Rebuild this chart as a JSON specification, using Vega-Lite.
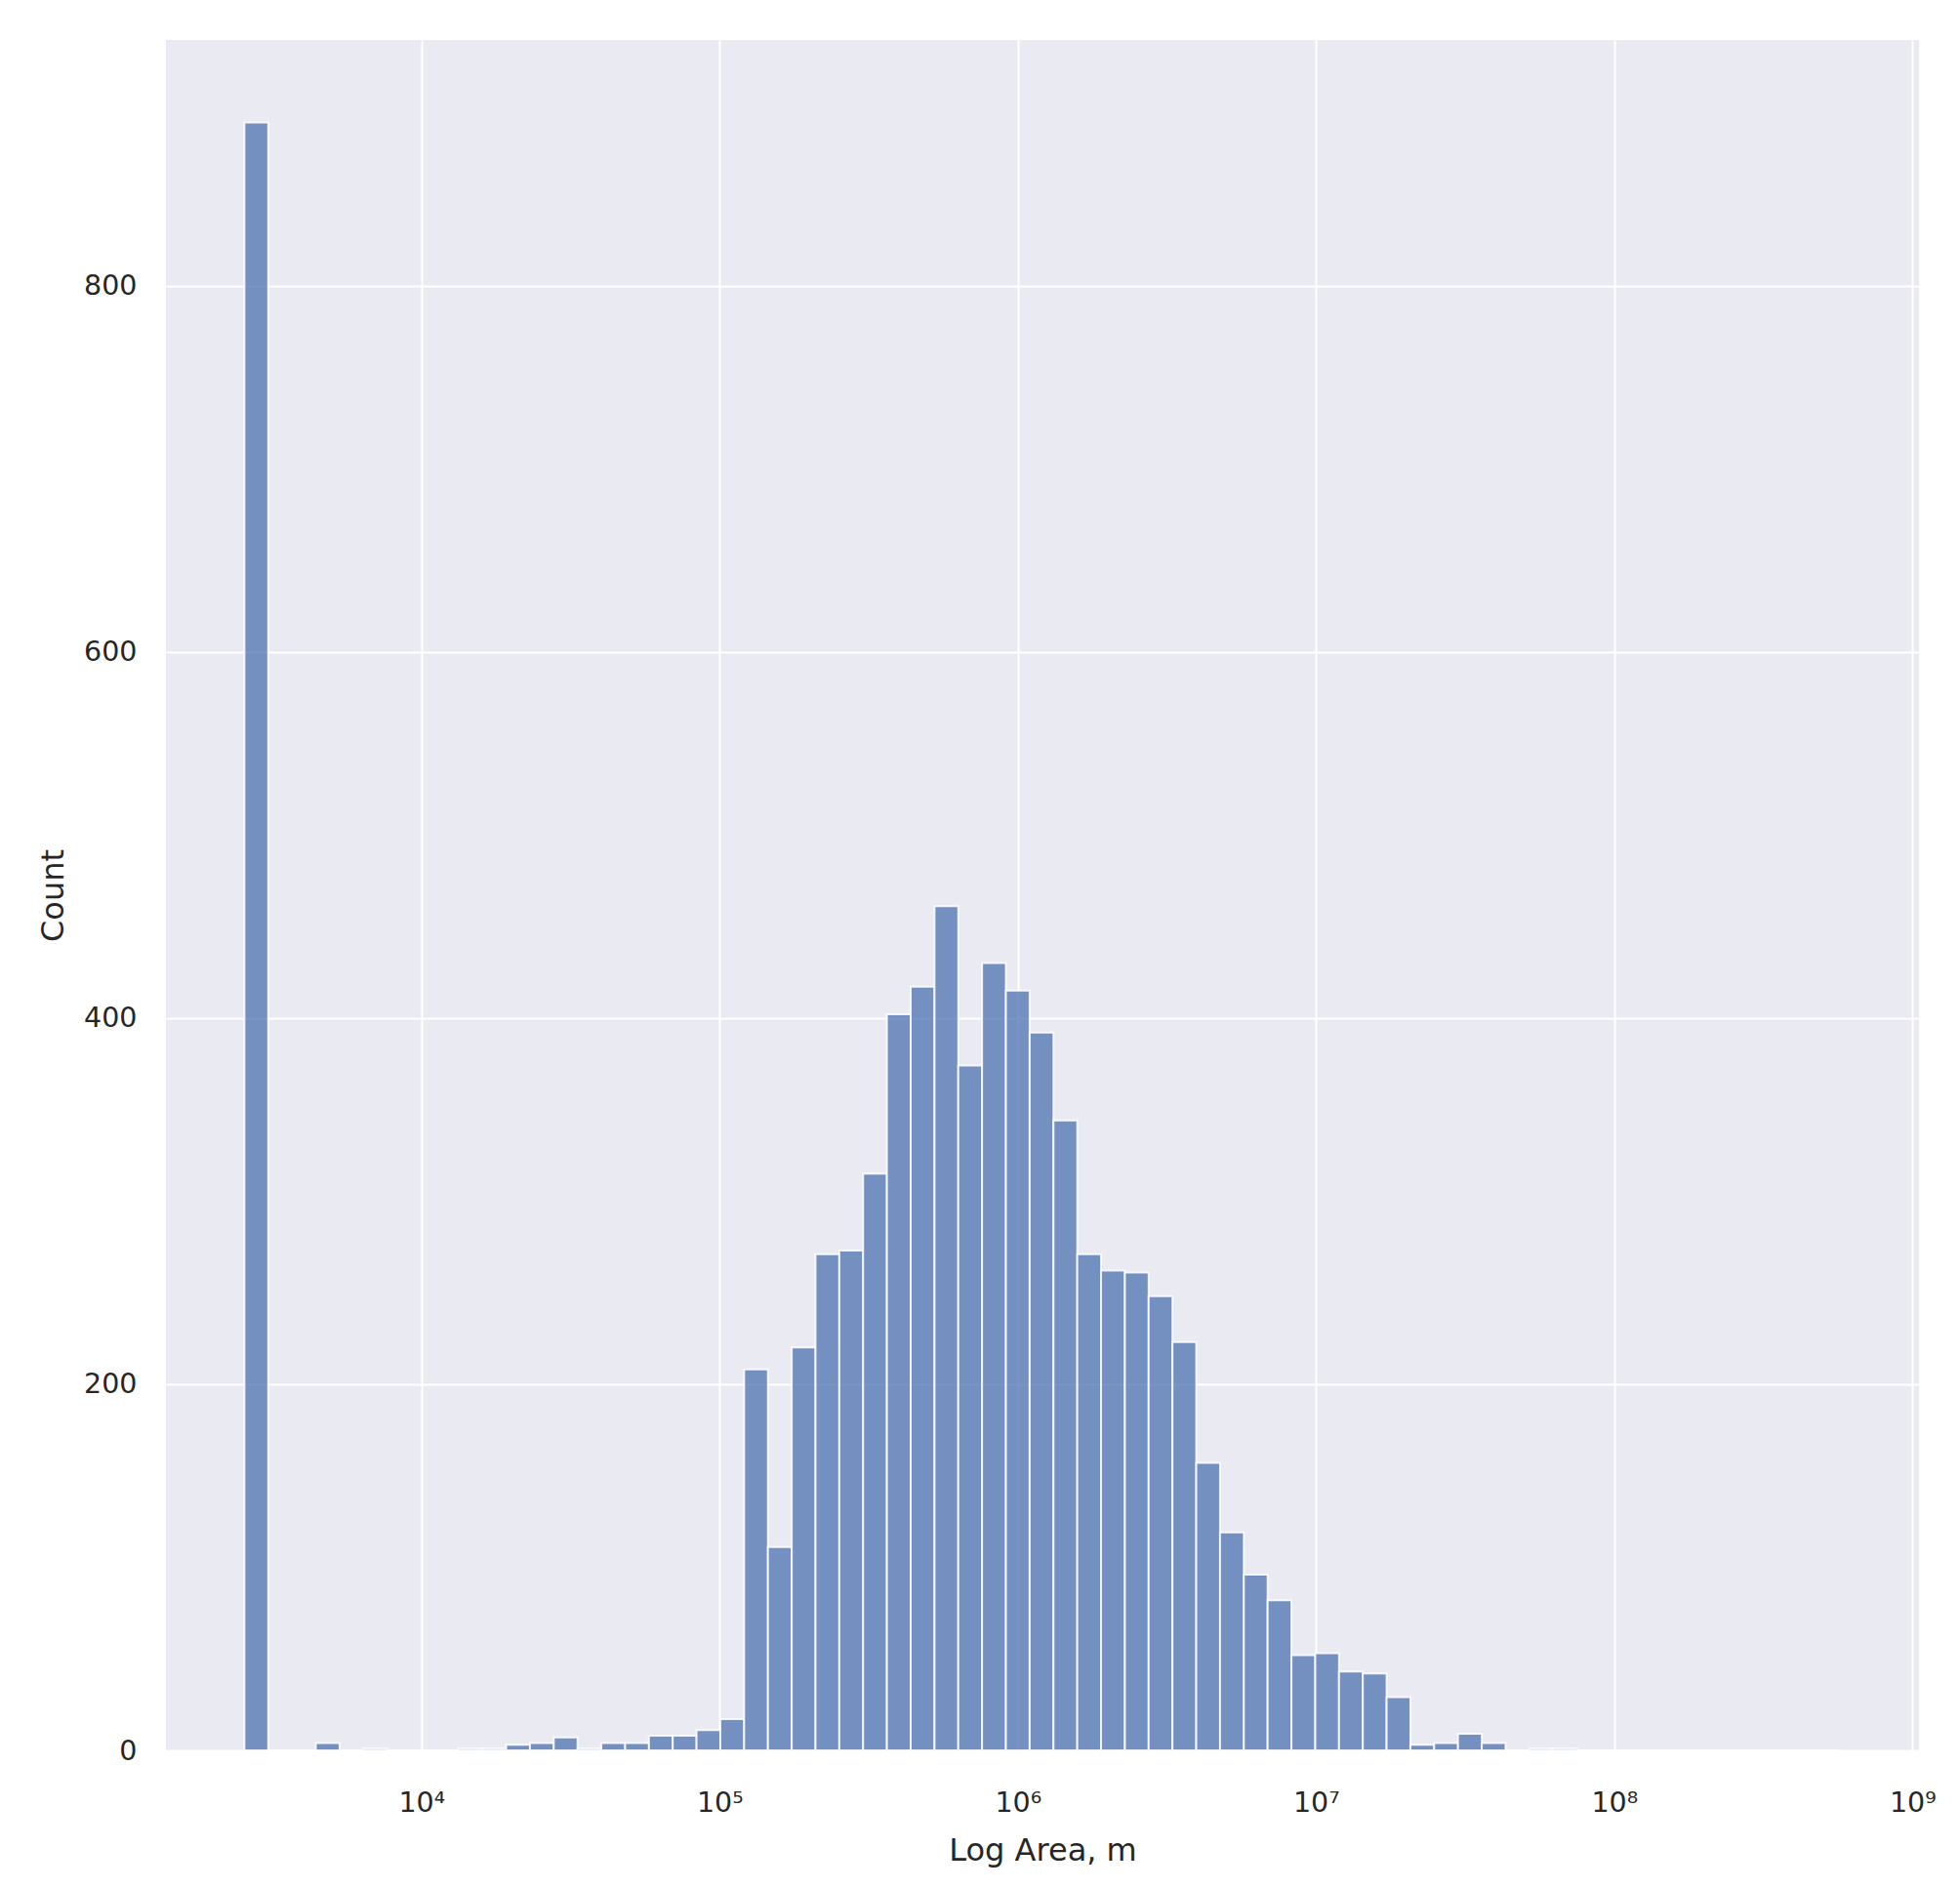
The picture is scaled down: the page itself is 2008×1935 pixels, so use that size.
{
  "$schema": "https://vega.github.io/schema/vega-lite/v6.json",
  "width": 1796,
  "height": 1752,
  "autosize": {"type": "none"},
  "padding": {"left": 170, "top": 41, "right": 42, "bottom": 142},
  "background": "white",
  "config": {
    "view": {"fill": "#EAEAF2", "stroke": null},
    "font": "DejaVu Sans"
  },
  "data": {
    "values": [
      {"bin_start": 3.4062, "bin_end": 3.4860, "count": 889},
      {"bin_start": 3.4860, "bin_end": 3.5658, "count": 0},
      {"bin_start": 3.5658, "bin_end": 3.6456, "count": 0},
      {"bin_start": 3.6456, "bin_end": 3.7254, "count": 4},
      {"bin_start": 3.7254, "bin_end": 3.8052, "count": 0},
      {"bin_start": 3.8052, "bin_end": 3.8850, "count": 1},
      {"bin_start": 3.8850, "bin_end": 3.9648, "count": 0},
      {"bin_start": 3.9648, "bin_end": 4.0446, "count": 0},
      {"bin_start": 4.0446, "bin_end": 4.1244, "count": 0},
      {"bin_start": 4.1244, "bin_end": 4.2042, "count": 1},
      {"bin_start": 4.2042, "bin_end": 4.2840, "count": 1},
      {"bin_start": 4.2840, "bin_end": 4.3638, "count": 3},
      {"bin_start": 4.3638, "bin_end": 4.4436, "count": 4},
      {"bin_start": 4.4436, "bin_end": 4.5234, "count": 7},
      {"bin_start": 4.5234, "bin_end": 4.6032, "count": 1},
      {"bin_start": 4.6032, "bin_end": 4.6830, "count": 4},
      {"bin_start": 4.6830, "bin_end": 4.7628, "count": 4},
      {"bin_start": 4.7628, "bin_end": 4.8426, "count": 8},
      {"bin_start": 4.8426, "bin_end": 4.9224, "count": 8},
      {"bin_start": 4.9224, "bin_end": 5.0022, "count": 11},
      {"bin_start": 5.0022, "bin_end": 5.0820, "count": 17},
      {"bin_start": 5.0820, "bin_end": 5.1618, "count": 208},
      {"bin_start": 5.1618, "bin_end": 5.2416, "count": 111},
      {"bin_start": 5.2416, "bin_end": 5.3214, "count": 220},
      {"bin_start": 5.3214, "bin_end": 5.4012, "count": 271},
      {"bin_start": 5.4012, "bin_end": 5.4810, "count": 273},
      {"bin_start": 5.4810, "bin_end": 5.5608, "count": 315},
      {"bin_start": 5.5608, "bin_end": 5.6406, "count": 402},
      {"bin_start": 5.6406, "bin_end": 5.7204, "count": 417},
      {"bin_start": 5.7204, "bin_end": 5.8002, "count": 461},
      {"bin_start": 5.8002, "bin_end": 5.8800, "count": 374},
      {"bin_start": 5.8800, "bin_end": 5.9598, "count": 430},
      {"bin_start": 5.9598, "bin_end": 6.0396, "count": 415},
      {"bin_start": 6.0396, "bin_end": 6.1194, "count": 392},
      {"bin_start": 6.1194, "bin_end": 6.1992, "count": 344},
      {"bin_start": 6.1992, "bin_end": 6.2790, "count": 271},
      {"bin_start": 6.2790, "bin_end": 6.3588, "count": 262},
      {"bin_start": 6.3588, "bin_end": 6.4386, "count": 261},
      {"bin_start": 6.4386, "bin_end": 6.5184, "count": 248},
      {"bin_start": 6.5184, "bin_end": 6.5982, "count": 223},
      {"bin_start": 6.5982, "bin_end": 6.6780, "count": 157},
      {"bin_start": 6.6780, "bin_end": 6.7578, "count": 119},
      {"bin_start": 6.7578, "bin_end": 6.8376, "count": 96},
      {"bin_start": 6.8376, "bin_end": 6.9174, "count": 82},
      {"bin_start": 6.9174, "bin_end": 6.9972, "count": 52},
      {"bin_start": 6.9972, "bin_end": 7.0770, "count": 53},
      {"bin_start": 7.0770, "bin_end": 7.1568, "count": 43},
      {"bin_start": 7.1568, "bin_end": 7.2366, "count": 42},
      {"bin_start": 7.2366, "bin_end": 7.3164, "count": 29},
      {"bin_start": 7.3164, "bin_end": 7.3962, "count": 3},
      {"bin_start": 7.3962, "bin_end": 7.4760, "count": 4},
      {"bin_start": 7.4760, "bin_end": 7.5558, "count": 9},
      {"bin_start": 7.5558, "bin_end": 7.6356, "count": 4},
      {"bin_start": 7.6356, "bin_end": 7.7154, "count": 0},
      {"bin_start": 7.7154, "bin_end": 7.7952, "count": 1},
      {"bin_start": 7.7952, "bin_end": 7.8750, "count": 1},
      {"bin_start": 7.8750, "bin_end": 7.9548, "count": 0},
      {"bin_start": 7.9548, "bin_end": 8.0346, "count": 0},
      {"bin_start": 8.0346, "bin_end": 8.1144, "count": 0},
      {"bin_start": 8.1144, "bin_end": 8.1942, "count": 0},
      {"bin_start": 8.1942, "bin_end": 8.2740, "count": 0},
      {"bin_start": 8.2740, "bin_end": 8.3538, "count": 0},
      {"bin_start": 8.3538, "bin_end": 8.4336, "count": 0},
      {"bin_start": 8.4336, "bin_end": 8.5134, "count": 0},
      {"bin_start": 8.5134, "bin_end": 8.5932, "count": 0},
      {"bin_start": 8.5932, "bin_end": 8.6730, "count": 0},
      {"bin_start": 8.6730, "bin_end": 8.7528, "count": 0}
    ]
  },
  "mark": {
    "type": "bar",
    "orient": "vertical",
    "fill": "#4C72B0",
    "fillOpacity": 0.75,
    "stroke": "white",
    "strokeWidth": 2,
    "strokeOpacity": 0.85
  },
  "encoding": {
    "x": {
      "field": "bin_start",
      "type": "quantitative",
      "scale": {"domain": [3.143, 9.022], "nice": false, "zero": false, "padding": 0},
      "axis": {
        "title": "Log Area, m",
        "values": [4, 5, 6, 7, 8, 9],
        "labelExpr": "'10' + ['⁰','¹','²','³','⁴','⁵','⁶','⁷','⁸','⁹'][datum.value]",
        "grid": true,
        "gridColor": "white",
        "gridWidth": 2,
        "domain": false,
        "ticks": false,
        "tickSize": 0,
        "labelFont": "DejaVu Sans",
        "labelFontSize": 28.5,
        "labelColor": "#262626",
        "labelBaseline": "alphabetic",
        "labelPadding": 62,
        "labelFlush": false,
        "labelOverlap": false,
        "titleFont": "DejaVu Sans",
        "titleFontSize": 32,
        "titleFontWeight": "normal",
        "titleColor": "#262626",
        "titleBaseline": "alphabetic",
        "titleY": 112
      }
    },
    "x2": {"field": "bin_end"},
    "y": {
      "field": "count",
      "type": "quantitative",
      "stack": null,
      "scale": {"domain": [0, 934.1], "nice": false, "padding": 0},
      "axis": {
        "title": "Count",
        "values": [0, 200, 400, 600, 800],
        "grid": true,
        "gridColor": "white",
        "gridWidth": 2,
        "domain": false,
        "ticks": false,
        "tickSize": 0,
        "labelFont": "DejaVu Sans",
        "labelFontSize": 28.5,
        "labelColor": "#262626",
        "labelPadding": 30,
        "labelFlush": false,
        "labelOverlap": false,
        "titleFont": "DejaVu Sans",
        "titleFontSize": 32,
        "titleFontWeight": "normal",
        "titleColor": "#262626",
        "titleBaseline": "alphabetic",
        "titleX": -106
      }
    },
    "y2": {"datum": 0}
  }
}
